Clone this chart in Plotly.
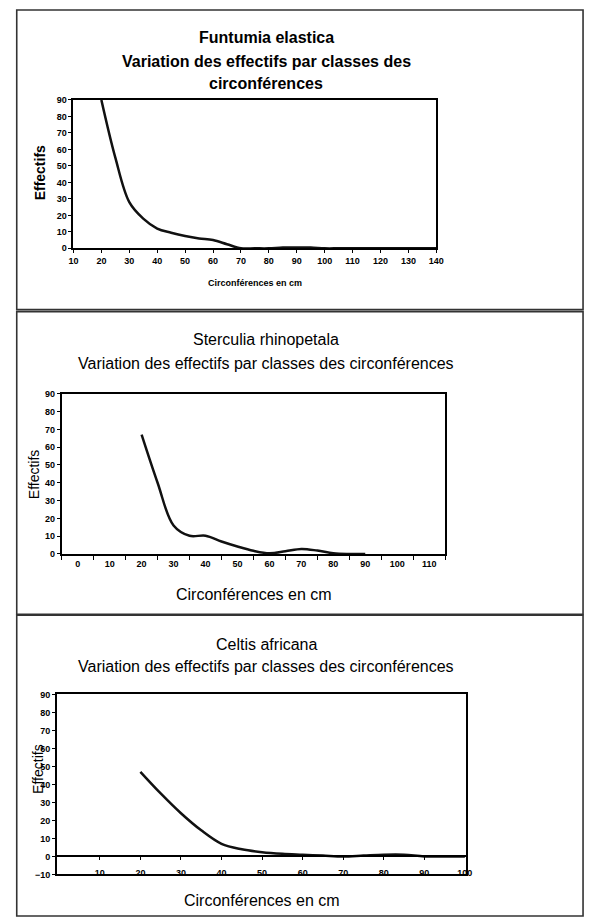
import plotly.graph_objects as go

# ---------------- data ----------------
circ1 = [20, 25, 30, 35, 40, 45, 50, 55, 60, 65, 70, 75, 80, 85, 90, 95, 100, 105, 110, 115, 120, 125, 130, 135, 140]
eff1 = [90, 55, 28, 18, 12, 9.5, 7.5, 6, 5, 2.5, 0, 0, 0, 0.5, 0.5, 0.5, 0, 0, 0, 0, 0, 0, 0, 0, 0]

circ2 = [20, 25, 30, 35, 40, 45, 50, 55, 60, 65, 70, 75, 80, 85, 90]
eff2 = [67, 40, 16, 10.2, 10.3, 7, 4.2, 1.8, 0.4, 1.5, 2.8, 1.9, 0.4, 0, 0]

circ3 = [20, 25, 30, 35, 40, 45, 50, 55, 60, 65, 70, 75, 80, 85, 90, 95, 100]
eff3 = [47, 35, 24, 14.5, 7, 4, 2.4, 1.5, 1, 0.5, 0, 0.5, 1, 1, 0, 0, 0]

xticks1 = [10, 20, 30, 40, 50, 60, 70, 80, 90, 100, 110, 120, 130, 140]
xticks2 = [0, 10, 20, 30, 40, 50, 60, 70, 80, 90, 100, 110]
xticks3 = [10, 20, 30, 40, 50, 60, 70, 80, 90, 100]
yticks = [0, 10, 20, 30, 40, 50, 60, 70, 80, 90]
yticks3 = [-10, 0, 10, 20, 30, 40, 50, 60, 70, 80, 90]

titles1 = ["Funtumia elastica", "Variation des effectifs par classes des", "circonférences"]
titles2 = ["Sterculia rhinopetala", "Variation des effectifs par classes des circonférences"]
titles3 = ["Celtis africana", "Variation des effectifs par classes des circonférences"]
xlabel = "Circonférences en cm"
ylabel = "Effectifs"

# ---------------- layout helpers ----------------
W, H = 593, 923
FONT = "Liberation Sans, Arial, sans-serif"


def fx(px):
    return px / W


def fy(py):
    return 1 - py / H


fig = go.Figure()
line = dict(color="#111111", width=2.5, shape="spline", smoothing=1.0)
fig.add_trace(go.Scatter(x=circ1, y=eff1, mode="lines", line=line, xaxis="x", yaxis="y", showlegend=False))
fig.add_trace(go.Scatter(x=circ2, y=eff2, mode="lines", line=line, xaxis="x2", yaxis="y2", showlegend=False))
fig.add_trace(go.Scatter(x=circ3, y=eff3, mode="lines", line=line, xaxis="x3", yaxis="y3", showlegend=False))
fig.add_trace(go.Scatter(x=[], y=[], mode="lines", xaxis="x4", yaxis="y3", showlegend=False))

tickfont = dict(family=FONT, size=9, color="black", weight="bold")
common = dict(showgrid=False, zeroline=False, showline=True, linecolor="black", mirror=True,
              tickfont=tickfont, tickcolor="black", fixedrange=True)

# panel 3 y-domain and zero-line position
y3dom = [fy(879), fy(697)]
zero_pos = y3dom[0] + (0 - (-10)) / 100 * (y3dom[1] - y3dom[0])

fig.update_layout(
    width=W, height=H,
    margin=dict(l=0, r=0, t=0, b=0),
    paper_bgcolor="white", plot_bgcolor="white",
    font=dict(family=FONT, color="black"),
    xaxis=dict(domain=[fx(70), fx(441)], range=[10, 140], tickvals=xticks1, ticks="outside", ticklen=3,
               linewidth=2, anchor="y", **common),
    yaxis=dict(domain=[fy(246), fy(96)], range=[0, 90], tickvals=yticks, ticks="outside", ticklen=3,
               linewidth=2, anchor="x", **common),
    xaxis2=dict(domain=[fx(58), fx(450)], range=[-5, 115], tickvals=xticks2, ticks="",
                minor=dict(tick0=-5, dtick=10, ticks="outside", ticklen=4, tickcolor="black"),
                linewidth=2, anchor="y2", **common),
    yaxis2=dict(domain=[fy(555), fy(393)], range=[0, 90], tickvals=yticks, ticks="outside", ticklen=3,
                linewidth=2, anchor="x2", **common),
    xaxis3=dict(domain=[fx(53), fx(471)], range=[-0.6, 100.2], tickvals=xticks3, ticks="",
                ticklabelstandoff=-11, linewidth=2.2, anchor="y3", **common),
    yaxis3=dict(domain=y3dom, range=[-10, 90], tickvals=yticks3, ticks="outside", ticklen=3,
                linewidth=1.6, anchor="x3", **common),
    xaxis4=dict(overlaying="x3", anchor="free", position=zero_pos, range=[-0.6, 100.2],
                tickvals=[10, 20, 30, 40, 50, 60, 70, 80, 90], ticks="outside", ticklen=3, tickcolor="black",
                showticklabels=False, showgrid=False, zeroline=False, showline=True, linecolor="black",
                linewidth=1.5, fixedrange=True),
)

# outer panel frames
for (y0, y1) in [(5, 308), (310, 616), (617, 921)]:
    fig.add_shape(type="rect", xref="paper", yref="paper", x0=fx(12), x1=fx(591), y0=fy(y1), y1=fy(y0),
                  line=dict(color="#333333", width=1.6), layer="below")

ann = []


def text(s, px, py, size, bold=False, angle=0):
    ann.append(dict(text=s, x=fx(px), y=fy(py), xref="paper", yref="paper", showarrow=False,
                    xanchor="center", yanchor="middle", textangle=angle,
                    font=dict(family=FONT, size=size, color="black", weight="bold" if bold else "normal")))


# panel 1 texts
for t, py in zip(titles1, [33, 57, 79]):
    text(t, 267, py, 16, bold=True)
text(xlabel, 256, 281, 9, bold=True)
text(ylabel, 36, 170, 14, bold=True, angle=-90)

# panel 2 texts
for t, py in zip(titles2, [338, 362]):
    text(t, 267, py, 16)
text(xlabel, 255, 596, 16)
text(ylabel, 30, 474, 14, angle=-90)

# panel 3 texts
for t, py in zip(titles3, [647, 669]):
    text(t, 267, py, 16)
text(xlabel, 263, 905, 16)
text(ylabel, 33, 772, 14, angle=-90)

fig.update_layout(annotations=ann)

fig.write_html("out.html")
